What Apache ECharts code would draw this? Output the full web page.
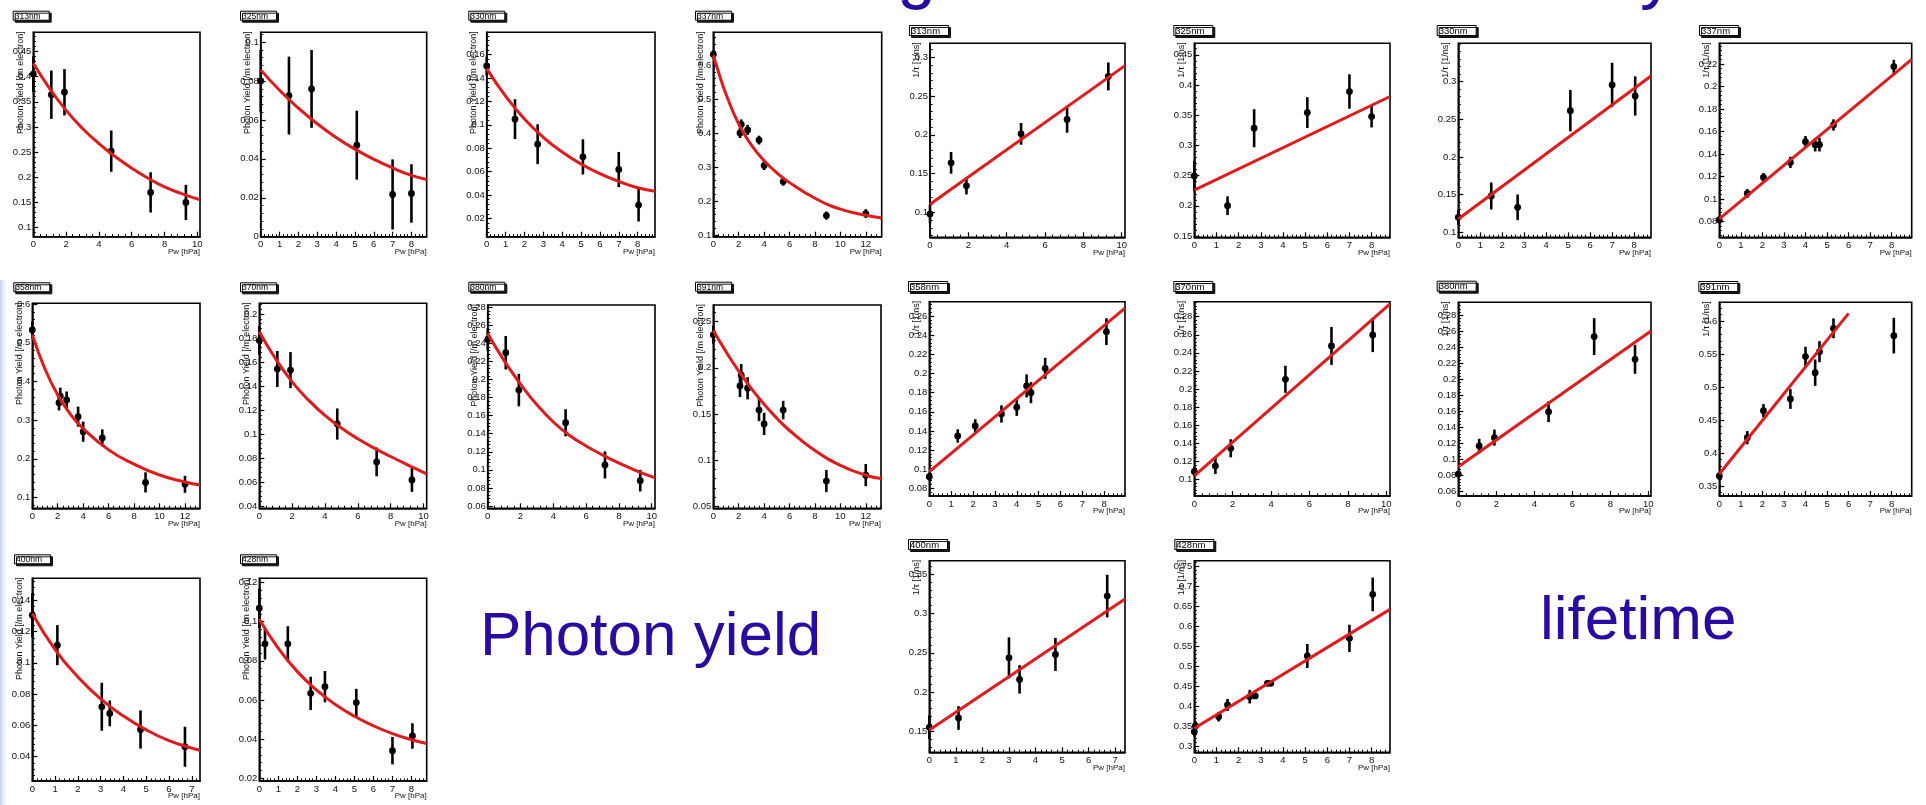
<!DOCTYPE html>
<html>
<head>
<meta charset="utf-8">
<script src="https://cdn.jsdelivr.net/npm/echarts@6/dist/echarts.min.js"></script>
<style>
html, body { margin: 0; padding: 0; background: #fff; }
#chart { width: 1926px; height: 805px; }
</style>
</head>
<body>
<div id="chart"></div>
<script>
// ---- Photon yield vs water vapour pressure: [Pw, yield, error] ----
const py313 = [[0,0.405,0.035],[1.1,0.364,0.048],[1.9,0.369,0.046],[4.75,0.252,0.041],[7.15,0.17,0.04],[9.3,0.15,0.035]];
const py313Fit = [[0,0.4265],[1,0.376],[2,0.333],[3,0.297],[4,0.267],[5,0.241],[6,0.218],[7,0.198],[8,0.181],[9,0.168],[10,0.157],[10.16,0.155]];
const py325 = [[0,0.08,0.016],[1.5,0.0725,0.02],[2.7,0.0759,0.02],[5.1,0.047,0.0177],[7.0,0.0217,0.018],[8.0,0.0222,0.015]];
const py325Fit = [[0,0.0857],[1,0.0752],[2,0.066],[3,0.058],[4,0.051],[5,0.045],[6,0.0398],[7,0.0353],[8,0.0315],[8.81,0.0294]];
const py330 = [[0,0.1503,0.008],[1.5,0.1048,0.017],[2.7,0.0834,0.017],[5.1,0.0726,0.015],[7.0,0.0618,0.015],[8.05,0.0314,0.014]];
const py330Fit = [[0,0.148],[1,0.1245],[2,0.105],[3,0.0893],[4,0.0767],[5,0.0665],[6,0.0583],[7,0.0516],[8,0.0462],[8.92,0.0433]];
const py337 = [[0,0.631,0.012],[2.1,0.40,0.015],[2.2,0.425,0.015],[2.7,0.409,0.015],[3.6,0.379,0.013],[4.0,0.304,0.013],[5.5,0.257,0.012],[8.9,0.157,0.012],[12,0.163,0.013]];
const py337Fit = [[0,0.628],[0.5,0.568],[1,0.514],[2,0.426],[3,0.364],[4,0.318],[5,0.283],[6,0.254],[8,0.208],[10,0.176],[12,0.158],[13.25,0.15]];
const py358 = [[0,0.533,0.022],[2.1,0.345,0.02],[2.2,0.362,0.022],[2.7,0.352,0.022],[3.6,0.309,0.026],[4.0,0.27,0.026],[5.5,0.254,0.022],[8.9,0.139,0.026],[12,0.134,0.022]];
const py358Fit = [[0,0.52],[1,0.432],[2,0.365],[3,0.315],[4,0.278],[6,0.223],[8,0.186],[10,0.158],[12,0.14],[13.18,0.132]];
const py370 = [[0,0.178,0.012],[1.1,0.1542,0.015],[1.9,0.1533,0.015],[4.75,0.1083,0.013],[7.15,0.0767,0.012],[9.3,0.0617,0.01]];
const py370Fit = [[0,0.1853],[1,0.1625],[2,0.1435],[3,0.1282],[4,0.1155],[5,0.105],[6,0.096],[7,0.0882],[8,0.0812],[9,0.0745],[10,0.068],[10.2,0.0667]];
const py380 = [[0,0.2445,0.012],[1.1,0.2297,0.0185],[1.9,0.1884,0.018],[4.75,0.1522,0.015],[7.15,0.1054,0.015],[9.3,0.088,0.012]];
const py380Fit = [[0,0.251],[1,0.221],[2,0.195],[3,0.172],[4,0.153],[5,0.138],[6,0.1265],[7,0.1165],[8,0.1075],[9,0.0995],[10,0.0925],[10.2,0.0912]];
const py391 = [[0,0.2357,0.01],[2.1,0.1804,0.012],[2.2,0.1921,0.012],[2.7,0.1779,0.012],[3.6,0.1543,0.012],[4.0,0.1393,0.012],[5.5,0.1543,0.01],[8.9,0.0775,0.012],[12,0.0839,0.012]];
const py391Fit = [[0,0.2404],[1,0.2175],[2,0.1965],[3,0.1775],[4,0.1605],[5,0.1455],[6,0.1322],[8,0.1105],[10,0.0945],[12,0.0838],[13.2,0.0802]];
const py400 = [[0,0.1304,0.014],[1.1,0.1113,0.0128],[3.05,0.0719,0.0153],[3.4,0.0677,0.0082],[4.75,0.0574,0.0122],[6.7,0.0464,0.0128]];
const py400Fit = [[0,0.1315],[1,0.1085],[2,0.091],[3,0.077],[4,0.066],[5,0.0572],[6,0.0503],[7,0.0455],[7.36,0.0442]];
const py428 = [[0,0.1069,0.01],[0.3,0.0887,0.008],[1.5,0.0887,0.009],[2.7,0.0634,0.0085],[3.45,0.0668,0.008],[5.1,0.0587,0.007],[7.0,0.0341,0.007],[8.05,0.0416,0.0065]];
const py428Fit = [[0,0.1013],[1,0.0864],[2,0.0745],[3,0.0652],[4,0.0577],[5,0.0517],[6,0.0468],[7,0.0428],[8,0.0397],[8.8,0.0378]];

// ---- Inverse lifetime vs water vapour pressure: [Pw, 1/tau, error] ----
const lt313 = [[0,0.0979,0.012],[1.1,0.164,0.014],[1.9,0.1343,0.011],[4.75,0.2013,0.014],[7.15,0.2198,0.017],[9.3,0.2753,0.018]];
const lt313Fit = [[0,0.1107],[10.17,0.2892]];
const lt325 = [[0,0.2494,0.025],[1.5,0.2003,0.0155],[2.7,0.3285,0.0315],[5.1,0.3544,0.0255],[7.0,0.3892,0.0285],[8.0,0.3478,0.018]];
const lt325Fit = [[0,0.2262],[8.83,0.381]];
const lt330 = [[0,0.1199,0.01],[1.5,0.1482,0.018],[2.7,0.1332,0.017],[5.1,0.2615,0.0275],[7.0,0.2956,0.0295],[8.05,0.281,0.026]];
const lt330Fit = [[0,0.1177],[8.77,0.3075]];
const lt337 = [[0,0.0815,0.003],[1.3,0.105,0.004],[2.05,0.1192,0.004],[3.3,0.1326,0.005],[4.0,0.151,0.005],[4.45,0.1483,0.006],[4.65,0.1483,0.006],[5.3,0.1658,0.005],[8.1,0.2176,0.006]];
const lt337Fit = [[0,0.0824],[8.93,0.2241]];
const lt358 = [[0,0.0922,0.004],[1.3,0.1347,0.007],[2.1,0.1452,0.007],[3.3,0.1577,0.009],[4.0,0.1647,0.009],[4.45,0.187,0.012],[4.65,0.18,0.011],[5.3,0.2054,0.011],[8.1,0.2437,0.014]];
const lt358Fit = [[0,0.0974],[8.95,0.2682]];
const lt370 = [[0,0.1085,0.005],[1.1,0.1148,0.009],[1.9,0.1343,0.01],[4.75,0.2107,0.015],[7.15,0.2476,0.021],[9.3,0.2598,0.019]];
const lt370Fit = [[0,0.1037],[10.2,0.2941]];
const lt380 = [[0,0.082,0.004],[1.1,0.117,0.009],[1.9,0.1274,0.01],[4.75,0.1598,0.013],[7.15,0.2534,0.023],[9.3,0.2251,0.018]];
const lt380Fit = [[0,0.0912],[10.14,0.2605]];
const lt391 = [[0,0.3652,0.006],[1.3,0.4232,0.01],[2.05,0.4641,0.01],[3.3,0.4818,0.015],[4.0,0.546,0.015],[4.45,0.5217,0.02],[4.65,0.5535,0.016],[5.3,0.5889,0.015],[8.1,0.5778,0.027]];
const lt391Fit = [[0,0.3682],[6,0.6116]];
const lt400 = [[0,0.1555,0.015],[1.1,0.1673,0.015],[3.0,0.2437,0.026],[3.4,0.2163,0.018],[4.75,0.248,0.021],[6.7,0.322,0.027]];
const lt400Fit = [[0,0.1521],[7.37,0.3182]];
const lt428 = [[0,0.3375,0.012],[0.05,0.3517,0.012],[1.1,0.375,0.012],[1.5,0.4042,0.015],[2.5,0.425,0.017],[2.75,0.4267,0.005],[3.3,0.4583,0.004],[3.45,0.4583,0.004],[5.1,0.5267,0.03],[7.0,0.5708,0.034],[8.05,0.6808,0.042]];
const lt428Fit = [[0,0.3458],[8.83,0.6433]];

// ---- Tick labels ----
const xTicks0to7 = [0,1,2,3,4,5,6,7];
const xTicks0to8 = [0,1,2,3,4,5,6,7,8];
const xTicks0to10 = [0,2,4,6,8,10];
const xTicks0to12 = [0,2,4,6,8,10,12];
const py313YTicks = [0.1,0.15,0.2,0.25,0.3,0.35,0.4,0.45];
const py325YTicks = [0,0.02,0.04,0.06,0.08,0.1];
const py330YTicks = [0.02,0.04,0.06,0.08,0.1,0.12,0.14,0.16];
const py337YTicks = [0.1,0.2,0.3,0.4,0.5,0.6];
const py358YTicks = [0.1,0.2,0.3,0.4,0.5,0.6];
const py370YTicks = [0.04,0.06,0.08,0.1,0.12,0.14,0.16,0.18,0.2];
const py380YTicks = [0.06,0.08,0.1,0.12,0.14,0.16,0.18,0.2,0.22,0.24,0.26,0.28];
const py391YTicks = [0.05,0.1,0.15,0.2,0.25];
const py400YTicks = [0.04,0.06,0.08,0.1,0.12,0.14];
const py428YTicks = [0.02,0.04,0.06,0.08,0.1,0.12];
const lt313YTicks = [0.1,0.15,0.2,0.25,0.3];
const lt325YTicks = [0.15,0.2,0.25,0.3,0.35,0.4,0.45];
const lt330YTicks = [0.1,0.15,0.2,0.25,0.3];
const lt337YTicks = [0.08,0.1,0.12,0.14,0.16,0.18,0.2,0.22];
const lt358YTicks = [0.08,0.1,0.12,0.14,0.16,0.18,0.2,0.22,0.24,0.26];
const lt370YTicks = [0.1,0.12,0.14,0.16,0.18,0.2,0.22,0.24,0.26,0.28];
const lt380YTicks = [0.06,0.08,0.1,0.12,0.14,0.16,0.18,0.2,0.22,0.24,0.26,0.28];
const lt391YTicks = [0.35,0.4,0.45,0.5,0.55,0.6];
const lt400YTicks = [0.15,0.2,0.25,0.3,0.35];
const lt428YTicks = [0.3,0.35,0.4,0.45,0.5,0.55,0.6,0.65,0.7,0.75];

const PY_TITLE = 'Photon Yield [/m electron]';
const LT_TITLE = '1/\u03c4 [1/ns]';
const X_TITLE = 'Pw [hPa]';

// Panel layout: frame = [left, top, right, bottom] in px, tag = label box position
const panels = [
  { label:'313nm', kind:'py', pts:py313, fit:py313Fit, xTicks:xTicks0to10, yTicks:py313YTicks, xr:[0,10.16], yr:[0.082,0.488], frame:[33.3,32.3,200,236.7], tag:[12.7,10.7] },
  { label:'325nm', kind:'py', pts:py325, fit:py325Fit, xTicks:xTicks0to8, yTicks:py325YTicks, xr:[0,8.81], yr:[0,0.105], frame:[260.7,32.3,426.7,236.7], tag:[240,10.7] },
  { label:'330nm', kind:'py', pts:py330, fit:py330Fit, xTicks:xTicks0to8, yTicks:py330YTicks, xr:[0,8.92], yr:[0.0044,0.179], frame:[486.7,32.3,655,236.7], tag:[468.3,10.7] },
  { label:'337nm', kind:'py', pts:py337, fit:py337Fit, xTicks:xTicks0to12, yTicks:py337YTicks, xr:[0,13.25], yr:[0.095,0.696], frame:[713.3,32.3,881.7,236.7], tag:[695,10.7] },
  { label:'358nm', kind:'py', pts:py358, fit:py358Fit, xTicks:xTicks0to12, yTicks:py358YTicks, xr:[0,13.18], yr:[0.072,0.602], frame:[32.3,303.3,200,508.3], tag:[13.3,282.3] },
  { label:'370nm', kind:'py', pts:py370, fit:py370Fit, xTicks:xTicks0to10, yTicks:py370YTicks, xr:[0,10.2], yr:[0.038,0.209], frame:[259.3,303.3,426.7,508.3], tag:[240,282.3] },
  { label:'380nm', kind:'py', pts:py380, fit:py380Fit, xTicks:xTicks0to10, yTicks:py380YTicks, xr:[0,10.2], yr:[0.0574,0.2826], frame:[487.7,305,655,508.3], tag:[468.3,281.7] },
  { label:'391nm', kind:'py', pts:py391, fit:py391Fit, xTicks:xTicks0to12, yTicks:py391YTicks, xr:[0,13.2], yr:[0.048,0.268], frame:[713.3,305,881,508.3], tag:[695,281.7] },
  { label:'400nm', kind:'py', pts:py400, fit:py400Fit, xTicks:xTicks0to7, yTicks:py400YTicks, xr:[0,7.36], yr:[0.0245,0.154], frame:[32.3,578.3,200,781], tag:[14,554.3] },
  { label:'428nm', kind:'py', pts:py428, fit:py428Fit, xTicks:xTicks0to8, yTicks:py428YTicks, xr:[0,8.8], yr:[0.0186,0.1222], frame:[259.3,578.3,426.7,781], tag:[240,554.3] },

  { label:'313nm', kind:'lt', pts:lt313, fit:lt313Fit, xTicks:xTicks0to10, yTicks:lt313YTicks, xr:[0,10.17], yr:[0.068,0.318], frame:[930,43.3,1125,237.3], tag:[909,25] },
  { label:'325nm', kind:'lt', pts:lt325, fit:lt325Fit, xTicks:xTicks0to8, yTicks:lt325YTicks, xr:[0,8.83], yr:[0.148,0.469], frame:[1194.3,43.3,1390,237.3], tag:[1173.3,25] },
  { label:'330nm', kind:'lt', pts:lt330, fit:lt330Fit, xTicks:xTicks0to8, yTicks:lt330YTicks, xr:[0,8.77], yr:[0.0934,0.3509], frame:[1458.3,43.3,1651,237.3], tag:[1436.7,25] },
  { label:'337nm', kind:'lt', pts:lt337, fit:lt337Fit, xTicks:xTicks0to8, yTicks:lt337YTicks, xr:[0,8.93], yr:[0.0661,0.2383], frame:[1719.3,43.3,1911.7,237.3], tag:[1699,25] },
  { label:'358nm', kind:'lt', pts:lt358, fit:lt358Fit, xTicks:xTicks0to8, yTicks:lt358YTicks, xr:[0,8.95], yr:[0.072,0.275], frame:[929.3,301.7,1125,496], tag:[908,281] },
  { label:'370nm', kind:'lt', pts:lt370, fit:lt370Fit, xTicks:xTicks0to10, yTicks:lt370YTicks, xr:[0,10.2], yr:[0.0815,0.2966], frame:[1194.3,301.7,1390,496], tag:[1173.3,281] },
  { label:'380nm', kind:'lt', pts:lt380, fit:lt380Fit, xTicks:xTicks0to10, yTicks:lt380YTicks, xr:[0,10.14], yr:[0.0546,0.2962], frame:[1458.3,302.3,1651,496], tag:[1436.7,280.7] },
  { label:'391nm', kind:'lt', pts:lt391, fit:lt391Fit, xTicks:xTicks0to8, yTicks:lt391YTicks, xr:[0,8.93], yr:[0.3348,0.6283], frame:[1719.3,302.3,1911.7,496], tag:[1698.3,281] },
  { label:'400nm', kind:'lt', pts:lt400, fit:lt400Fit, xTicks:xTicks0to7, yTicks:lt400YTicks, xr:[0,7.37], yr:[0.1238,0.3669], frame:[929.3,560.7,1125,752.3], tag:[908,539] },
  { label:'428nm', kind:'lt', pts:lt428, fit:lt428Fit, xTicks:xTicks0to8, yTicks:lt428YTicks, xr:[0,8.83], yr:[0.2858,0.765], frame:[1194.3,560.7,1390,752.3], tag:[1174.3,539] }
];

const FONT = '"Liberation Sans", Arial, Helvetica, sans-serif';
const INK = '#111';
const FIT_RED = '#e11b1b';
const TITLE_BLUE = '#2a0aa0';

// Secondary (minor) tick positions: five subdivisions per primary interval
function minorTicks(ticks, lo, hi) {
  const step = (ticks[1] - ticks[0]) / 5;
  const out = [];
  const k0 = Math.ceil(lo / step - 1e-6), k1 = Math.floor(hi / step + 1e-6);
  for (let k = k0; k <= k1; k++) {
    const v = +(k * step).toFixed(6);
    if (!ticks.some(t => Math.abs(t - v) < step / 10)) out.push(v);
  }
  return out;
}

function axisPair(dim, gi, range, ticks) {
  const base = {
    type: 'value', gridIndex: gi, min: range[0], max: range[1],
    splitLine: { show: false }, scale: true,
    position: dim === 'y' ? 'left' : 'bottom'
  };
  const major = Object.assign({}, base, {
    axisLine: { show: true, lineStyle: { color: '#000', width: 1.5 } },
    axisTick: { show: true, inside: true, length: 5, customValues: ticks, lineStyle: { color: '#000', width: 1.2 } },
    axisLabel: { show: true, customValues: ticks, fontSize: 9.5, fontFamily: FONT, color: INK, margin: dim === 'y' ? 2 : 3, hideOverlap: false }
  });
  const minor = Object.assign({}, base, {
    axisLine: { show: false },
    axisTick: { show: true, inside: true, length: 2.6, customValues: minorTicks(ticks, range[0], range[1]), lineStyle: { color: '#000', width: 1 } },
    axisLabel: { show: false }
  });
  return [major, minor];
}

// Vertical error bar with a filled marker at the measured value
function renderPoint(params, api) {
  const x = api.value(0), y = api.value(1), e = api.value(2);
  const hi = api.coord([x, y + e]);
  const lo = api.coord([x, y - e]);
  const c = api.coord([x, y]);
  return {
    type: 'group',
    children: [
      { type: 'line', shape: { x1: hi[0], y1: hi[1], x2: lo[0], y2: lo[1] }, style: { stroke: '#000', lineWidth: 2.6 } },
      { type: 'circle', shape: { cx: c[0], cy: c[1], r: 3.4 }, style: { fill: '#000' } }
    ]
  };
}

const grid = [], xAxis = [], yAxis = [], series = [], title = [], graphic = [];

panels.forEach((p, i) => {
  const f = p.frame;
  grid.push({
    left: f[0], top: f[1], width: f[2] - f[0], height: f[3] - f[1],
    show: true, borderColor: '#000', borderWidth: 1.6, backgroundColor: '#fff'
  });
  const xs = axisPair('x', i, p.xr, p.xTicks);
  const ys = axisPair('y', i, p.yr, p.yTicks);
  const xi = xAxis.length, yi = yAxis.length;
  xAxis.push(xs[0], xs[1]);
  yAxis.push(ys[0], ys[1]);

  series.push({
    type: 'custom', name: p.kind + p.label, xAxisIndex: xi, yAxisIndex: yi,
    data: p.pts, renderItem: renderPoint, clip: false, z: 3, silent: true
  });
  series.push({
    type: 'line', name: p.kind + p.label + ' fit', xAxisIndex: xi, yAxisIndex: yi,
    data: p.fit, smooth: p.fit.length > 2 ? 0.5 : false,
    showSymbol: false, symbol: 'none', z: 4, silent: true,
    lineStyle: { color: FIT_RED, width: 3 }
  });

  const isLt = p.kind === 'lt';
  title.push({
    text: p.label, left: p.tag[0], top: p.tag[1],
    padding: [1, 9, 0, 2],
    textStyle: { fontSize: isLt ? 9.5 : 8.5, fontWeight: 'normal', fontFamily: FONT, color: '#000', lineHeight: isLt ? 10 : 9 },
    backgroundColor: '#fff', borderColor: '#000', borderWidth: 1,
    shadowColor: 'rgba(0,0,0,0.9)', shadowOffsetX: 2, shadowOffsetY: 2, shadowBlur: 0
  });

  graphic.push({
    type: 'text', x: f[0] - 13, y: f[1] - 1, rotation: Math.PI / 2, silent: true,
    style: { text: isLt ? LT_TITLE : PY_TITLE, font: '9px ' + FONT, fill: INK,
             textAlign: 'right', textVerticalAlign: 'middle', align: 'right', verticalAlign: 'middle' }
  });
  graphic.push({
    type: 'text', x: f[2], y: f[3] + 15, silent: true,
    style: { text: X_TITLE, font: '8px ' + FONT, fill: INK,
             textAlign: 'right', textVerticalAlign: 'middle', align: 'right', verticalAlign: 'middle' }
  });
});

// Slide captions and the tail of the heading above the plots
graphic.push(
  { type: 'rect', silent: true, shape: { x: 0, y: 280, width: 9, height: 525 },
    style: { fill: new echarts.graphic.LinearGradient(0, 0, 1, 0, [{ offset: 0, color: '#c3d0ea' }, { offset: 1, color: 'rgba(255,255,255,0)' }]) } },
  { type: 'text', x: 480, y: 638, silent: true,
    style: { text: 'Photon yield', font: '62px ' + FONT, fill: TITLE_BLUE, textAlign: 'left', textVerticalAlign: 'middle', align: 'left', verticalAlign: 'middle' } },
  { type: 'text', x: 1540, y: 622, silent: true,
    style: { text: 'lifetime', font: '62px ' + FONT, fill: TITLE_BLUE, textAlign: 'left', textVerticalAlign: 'middle', align: 'left', verticalAlign: 'middle' } },
  { type: 'text', x: 897, y: -24, silent: true,
    style: { text: 'g', font: '70px ' + FONT, fill: TITLE_BLUE, textAlign: 'left', textVerticalAlign: 'middle', align: 'left', verticalAlign: 'middle' } },
  { type: 'text', x: 1640, y: -24, silent: true,
    style: { text: 'y', font: '70px ' + FONT, fill: TITLE_BLUE, textAlign: 'left', textVerticalAlign: 'middle', align: 'left', verticalAlign: 'middle' } }
);

const chart = echarts.init(document.getElementById('chart'), null, { renderer: 'canvas' });
chart.setOption({
  backgroundColor: '#fff',
  animation: false,
  title, grid, xAxis, yAxis, series, graphic
});
</script>
</body>
</html>
